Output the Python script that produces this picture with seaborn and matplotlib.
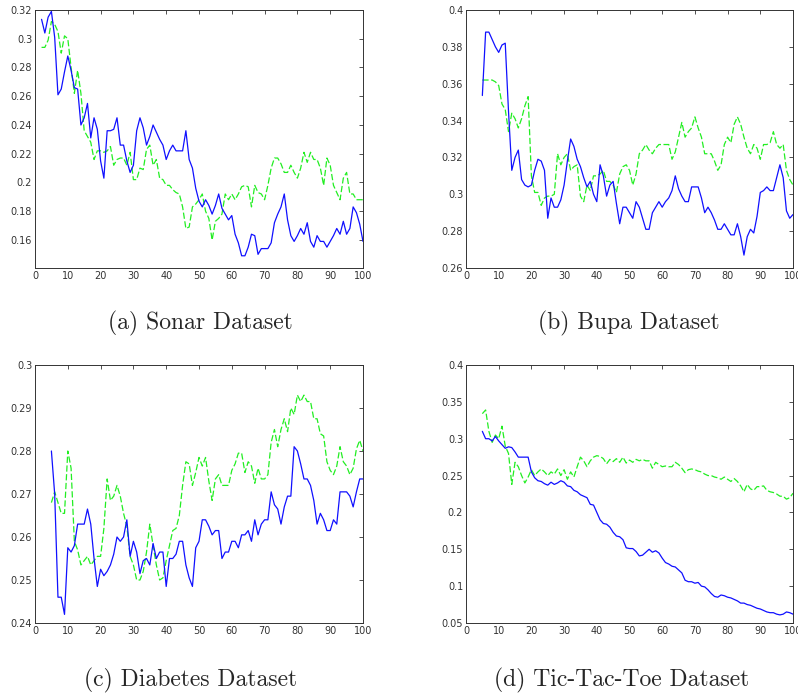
import numpy as np
import pandas as pd
import matplotlib
matplotlib.use("Agg")
import matplotlib.pyplot as plt
import seaborn as sns
from matplotlib.ticker import FuncFormatter, MultipleLocator

# ---------------- data ----------------
sonar_x = list(range(2, 101))
sonar_blue = [0.3135, 0.304, 0.315, 0.319, 0.301, 0.261, 0.265, 0.277, 0.288, 0.278,
              0.266, 0.265, 0.240, 0.245, 0.255, 0.231, 0.245, 0.237, 0.215, 0.203,
              0.236, 0.236, 0.237, 0.245, 0.226, 0.226, 0.215, 0.207, 0.212, 0.236,
              0.245, 0.238, 0.226, 0.232, 0.240, 0.235, 0.230, 0.226, 0.216, 0.222,
              0.226, 0.222, 0.222, 0.222, 0.236, 0.216, 0.210, 0.196, 0.187, 0.183,
              0.188, 0.184, 0.178, 0.184, 0.192, 0.182, 0.178, 0.174, 0.177, 0.164,
              0.158, 0.149, 0.149, 0.155, 0.164, 0.163, 0.150, 0.154, 0.154, 0.154,
              0.158, 0.172, 0.178, 0.183, 0.192, 0.174, 0.163, 0.159, 0.163, 0.168,
              0.164, 0.172, 0.159, 0.155, 0.163, 0.159, 0.159, 0.155, 0.159, 0.163,
              0.168, 0.164, 0.173, 0.164, 0.168, 0.183, 0.179, 0.171, 0.159]
sonar_green = [0.294, 0.294, 0.299, 0.312, 0.310, 0.305, 0.290, 0.302, 0.300, 0.280,
               0.262, 0.278, 0.262, 0.236, 0.232, 0.228, 0.216, 0.222, 0.222, 0.221,
               0.222, 0.225, 0.212, 0.216, 0.217, 0.217, 0.212, 0.221, 0.202, 0.202,
               0.210, 0.209, 0.223, 0.226, 0.212, 0.216, 0.203, 0.202, 0.198, 0.198,
               0.195, 0.193, 0.192, 0.183, 0.168, 0.169, 0.183, 0.185, 0.188, 0.192,
               0.180, 0.175, 0.160, 0.173, 0.175, 0.178, 0.192, 0.188, 0.192, 0.188,
               0.192, 0.197, 0.198, 0.197, 0.183, 0.198, 0.193, 0.192, 0.188, 0.198,
               0.210, 0.217, 0.217, 0.213, 0.207, 0.207, 0.212, 0.207, 0.203, 0.210,
               0.221, 0.214, 0.221, 0.216, 0.216, 0.210, 0.198, 0.217, 0.212, 0.198,
               0.193, 0.188, 0.203, 0.207, 0.192, 0.192, 0.188, 0.188, 0.188]

bupa_x = list(range(5, 101))
bupa_blue = [0.3536, 0.388, 0.388, 0.384, 0.380, 0.377, 0.381, 0.382, 0.345, 0.313,
             0.320, 0.324, 0.308, 0.305, 0.304, 0.305, 0.313, 0.319, 0.318, 0.313,
             0.287, 0.298, 0.293, 0.293, 0.297, 0.305, 0.318, 0.330, 0.326, 0.319,
             0.315, 0.309, 0.304, 0.307, 0.300, 0.296, 0.316, 0.310, 0.299, 0.305,
             0.307, 0.295, 0.284, 0.293, 0.293, 0.290, 0.287, 0.296, 0.293, 0.287,
             0.281, 0.281, 0.290, 0.293, 0.296, 0.293, 0.296, 0.298, 0.302, 0.310,
             0.303, 0.299, 0.296, 0.296, 0.304, 0.304, 0.304, 0.298, 0.290, 0.293,
             0.290, 0.286, 0.281, 0.281, 0.284, 0.281, 0.278, 0.278, 0.284, 0.277,
             0.267, 0.277, 0.281, 0.279, 0.288, 0.301, 0.302, 0.304, 0.302, 0.302,
             0.309, 0.316, 0.309, 0.291, 0.287, 0.289]
bupa_green = [0.362, 0.362, 0.362, 0.362, 0.361, 0.359, 0.349, 0.346, 0.334, 0.344,
              0.341, 0.336, 0.341, 0.348, 0.353, 0.310, 0.301, 0.301, 0.294, 0.298,
              0.299, 0.299, 0.300, 0.322, 0.316, 0.320, 0.322, 0.313, 0.315, 0.316,
              0.299, 0.296, 0.305, 0.302, 0.310, 0.310, 0.311, 0.313, 0.307, 0.307,
              0.305, 0.301, 0.311, 0.315, 0.316, 0.313, 0.305, 0.311, 0.322, 0.324,
              0.327, 0.324, 0.322, 0.325, 0.327, 0.327, 0.327, 0.327, 0.319, 0.323,
              0.331, 0.339, 0.331, 0.334, 0.336, 0.342, 0.336, 0.331, 0.322, 0.322,
              0.322, 0.318, 0.313, 0.316, 0.327, 0.331, 0.328, 0.338, 0.342, 0.338,
              0.331, 0.325, 0.322, 0.327, 0.325, 0.319, 0.327, 0.327, 0.328, 0.334,
              0.327, 0.325, 0.327, 0.313, 0.308, 0.305]

diab_x = list(range(5, 101))
diab_blue = [0.280, 0.270, 0.246, 0.246, 0.242, 0.2575, 0.2565, 0.258, 0.263, 0.263,
             0.263, 0.2665, 0.263, 0.255, 0.2485, 0.2525, 0.251, 0.252, 0.2535, 0.256,
             0.260, 0.259, 0.260, 0.264, 0.2555, 0.259, 0.2565, 0.2515, 0.2545, 0.255,
             0.2535, 0.2585, 0.255, 0.2565, 0.2565, 0.2485, 0.255, 0.255, 0.256, 0.259,
             0.259, 0.2535, 0.2505, 0.2485, 0.2575, 0.259, 0.264, 0.264, 0.2625, 0.2605,
             0.2615, 0.2615, 0.255, 0.2565, 0.2565, 0.259, 0.259, 0.2575, 0.2605, 0.2605,
             0.2615, 0.259, 0.264, 0.2605, 0.263, 0.264, 0.264, 0.2705, 0.2675, 0.2665,
             0.263, 0.267, 0.2695, 0.2695, 0.281, 0.280, 0.277, 0.2735, 0.2735, 0.272,
             0.2685, 0.263, 0.2655, 0.264, 0.2615, 0.2615, 0.264, 0.263, 0.2705, 0.2705,
             0.2705, 0.2695, 0.267, 0.2705, 0.2735, 0.2735]
diab_green = [0.268, 0.2705, 0.268, 0.2655, 0.2655, 0.280, 0.276, 0.259, 0.257, 0.2535,
              0.2545, 0.2555, 0.2535, 0.2545, 0.2555, 0.2555, 0.262, 0.2735, 0.2685, 0.2695,
              0.272, 0.2695, 0.2655, 0.2625, 0.2555, 0.2535, 0.250, 0.250, 0.252, 0.2565,
              0.263, 0.258, 0.2535, 0.250, 0.2505, 0.2545, 0.258, 0.2615, 0.262, 0.265,
              0.272, 0.2775, 0.277, 0.272, 0.275, 0.2785, 0.2765, 0.2785, 0.273, 0.2685,
              0.2735, 0.2745, 0.272, 0.272, 0.272, 0.2755, 0.277, 0.2795, 0.2795, 0.275,
              0.2775, 0.2765, 0.2725, 0.276, 0.2735, 0.2735, 0.2745, 0.282, 0.285, 0.281,
              0.285, 0.2875, 0.2845, 0.290, 0.2885, 0.293, 0.2915, 0.293, 0.2915, 0.2915,
              0.2875, 0.2875, 0.284, 0.2835, 0.2775, 0.2755, 0.2745, 0.2765, 0.281, 0.2775,
              0.2765, 0.2745, 0.276, 0.2805, 0.2825, 0.280]

ttt_x = list(range(5, 101))
ttt_blue = [0.310, 0.300, 0.300, 0.297, 0.303, 0.297, 0.292, 0.287, 0.289, 0.288,
            0.282, 0.275, 0.275, 0.275, 0.275, 0.255, 0.247, 0.243, 0.242, 0.239,
            0.237, 0.241, 0.238, 0.240, 0.243, 0.241, 0.236, 0.235, 0.230, 0.228,
            0.224, 0.222, 0.220, 0.211, 0.210, 0.200, 0.190, 0.185, 0.184, 0.180,
            0.173, 0.168, 0.167, 0.163, 0.152, 0.151, 0.151, 0.147, 0.141, 0.142,
            0.146, 0.150, 0.146, 0.148, 0.145, 0.138, 0.132, 0.130, 0.127, 0.126,
            0.122, 0.118, 0.108, 0.106, 0.106, 0.104, 0.105, 0.100, 0.099, 0.095,
            0.090, 0.086, 0.085, 0.088, 0.087, 0.085, 0.084, 0.082, 0.080, 0.077,
            0.077, 0.075, 0.074, 0.072, 0.070, 0.069, 0.067, 0.065, 0.064, 0.064,
            0.062, 0.061, 0.062, 0.065, 0.064, 0.062]
ttt_green = [0.334, 0.339, 0.310, 0.295, 0.305, 0.300, 0.317, 0.290, 0.280, 0.238,
             0.268, 0.262, 0.250, 0.240, 0.248, 0.258, 0.250, 0.255, 0.259, 0.255,
             0.250, 0.255, 0.252, 0.259, 0.250, 0.258, 0.245, 0.255, 0.248, 0.262,
             0.275, 0.270, 0.262, 0.270, 0.275, 0.277, 0.276, 0.273, 0.266, 0.272,
             0.269, 0.273, 0.268, 0.275, 0.267, 0.271, 0.268, 0.272, 0.270, 0.272,
             0.270, 0.270, 0.260, 0.268, 0.265, 0.262, 0.263, 0.262, 0.262, 0.268,
             0.265, 0.260, 0.254, 0.258, 0.259, 0.258, 0.256, 0.255, 0.252, 0.250,
             0.250, 0.248, 0.247, 0.245, 0.248, 0.245, 0.242, 0.246, 0.242, 0.236,
             0.228, 0.238, 0.232, 0.230, 0.235, 0.235, 0.236, 0.230, 0.228, 0.227,
             0.225, 0.222, 0.222, 0.218, 0.220, 0.226]

captions = ["(a) Sonar Dataset", "(b) Bupa Dataset",
            "(c) Diabetes Dataset", "(d) Tic-Tac-Toe Dataset"]
y_limits = [(0.1405, 0.32), (0.26, 0.40), (0.24, 0.30), (0.05, 0.40)]
y_steps = [0.02, 0.02, 0.01, 0.05]

panels = [(sonar_x, sonar_blue, sonar_green),
          (bupa_x, bupa_blue, bupa_green),
          (diab_x, diab_blue, diab_green),
          (ttt_x, ttt_blue, ttt_green)]

# ---------------- figure ----------------
sns.set_style("white")
plt.rcParams["font.family"] = ["DejaVu Sans"]

W, H = 798, 694
fig = plt.figure(figsize=(W / 100, H / 100), dpi=100)

boxes = [(35, 10, 363, 268), (466, 10, 793, 268),
         (35, 365, 363, 623), (466, 365, 793, 623)]
cap_pos = [(200, 323), (629, 323), (191, 680), (622, 680)]

fmt = FuncFormatter(lambda v, p: ("%g" % round(v, 4)))

for i, ((xs, blue, green), (l, t, r, b)) in enumerate(zip(panels, boxes)):
    ax = fig.add_axes([l / W, 1 - b / H, (r - l) / W, (b - t) / H])
    df = pd.DataFrame({"x": xs, "blue": blue, "green": green})
    sns.lineplot(data=df, x="x", y="green", ax=ax, color="#22ee22",
                 linewidth=0.9, dashes=False, linestyle=(0, (5, 2)))
    sns.lineplot(data=df, x="x", y="blue", ax=ax, color="#1010ff",
                 linewidth=0.9)
    ax.set_xlim(0, 100)
    ax.set_ylim(*y_limits[i])
    ax.xaxis.set_major_locator(MultipleLocator(10))
    ax.yaxis.set_major_locator(MultipleLocator(y_steps[i]))
    ax.yaxis.set_major_formatter(fmt)
    ax.set_xlabel("")
    ax.set_ylabel("")
    ax.tick_params(direction="in", length=3, width=0.6, top=True, right=True,
                   labelsize=7, colors="#333333", pad=2)
    for s in ax.spines.values():
        s.set_visible(True)
        s.set_linewidth(0.7)
        s.set_color("#333333")
    cx, cy = cap_pos[i]
    fig.text(cx / W, 1 - cy / H, captions[i], ha="center", va="center",
             fontsize=17, family=["cmr10", "DejaVu Serif"])

fig.savefig("out.png", dpi=100)
